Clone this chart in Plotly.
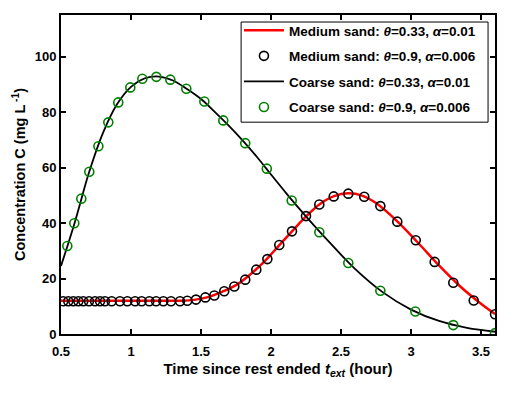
import plotly.graph_objects as go

# Medium sand, theta=0.33 (model curve)
med_line_t = [0.5, 1.0, 1.2, 1.35, 1.45, 1.55, 1.65, 1.75, 1.85, 1.95, 2.05, 2.15, 2.25, 2.35,
              2.45, 2.55, 2.65, 2.75, 2.9, 3.05, 3.2, 3.35, 3.5, 3.6]
med_line_c = [12.0, 12.0, 12.0, 12.0, 12.3, 13.3, 15.2, 17.6, 21.4, 26.0, 31.5, 37.0, 42.4, 46.9,
              49.7, 50.7, 49.9, 47.2, 40.7, 32.9, 24.7, 17.2, 10.9, 7.2]

# Medium sand, theta=0.9 (circles)
med_pts_t = [0.516, 0.552, 0.588, 0.624, 0.659, 0.700, 0.743, 0.779, 0.814, 0.862, 0.921,
             0.974, 1.029, 1.076, 1.131, 1.179, 1.231, 1.286, 1.350, 1.402, 1.464, 1.531,
             1.595, 1.666, 1.738, 1.816, 1.895, 1.974, 2.059, 2.150, 2.250, 2.345, 2.448,
             2.552, 2.666, 2.781, 2.902, 3.034, 3.169, 3.302, 3.448, 3.600]
med_pts_c = [11.8, 11.8, 11.8, 11.8, 11.8, 11.8, 11.8, 11.8, 11.8, 11.8, 11.8,
             11.8, 11.8, 11.8, 11.8, 11.8, 11.8, 11.8, 11.8, 12.0, 12.4, 13.2,
             13.9, 15.4, 17.1, 19.6, 23.2, 27.0, 32.1, 37.0, 42.5, 46.7, 49.6,
             50.6, 49.5, 46.1, 40.5, 33.8, 26.0, 18.5, 12.1, 7.1]

# Coarse sand, theta=0.33 (model curve)
coarse_line_t = [0.5, 0.6, 0.7, 0.8, 0.9, 1.0, 1.1, 1.2, 1.3, 1.4, 1.5, 1.6, 1.7, 1.8, 1.9,
                 2.0, 2.1, 2.2, 2.4, 2.6, 2.8, 3.0, 3.2, 3.4, 3.6]
coarse_line_c = [24.5, 40.5, 58.2, 72.5, 82.8, 89.1, 92.2, 92.8, 91.4, 88.3, 84.7, 80.0, 75.0,
                 69.6, 63.8, 57.5, 51.3, 45.3, 34.0, 23.5, 15.0, 8.8, 4.7, 2.2, 0.8]

# Coarse sand, theta=0.9 (circles)
coarse_pts_t = [0.545, 0.595, 0.645, 0.702, 0.767, 0.838, 0.909, 0.995, 1.081, 1.181, 1.281,
                1.395, 1.524, 1.659, 1.816, 1.970, 2.148, 2.345, 2.552, 2.781, 3.031, 3.302, 3.600]
coarse_pts_c = [31.7, 39.9, 48.8, 58.5, 67.7, 76.3, 83.5, 88.9, 92.0, 92.7, 91.7,
                88.4, 83.8, 77.0, 68.8, 59.6, 48.1, 36.7, 25.6, 15.6, 8.1, 3.2, 0.3]

x_ticks = [0.5, 1, 1.5, 2, 2.5, 3, 3.5]
y_ticks = [0, 20, 40, 60, 80, 100]

FONT = "Liberation Sans, Arial, sans-serif"
GREEN = "rgb(0,128,0)"

fig = go.Figure()

# curves first, circles on top; legendrank keeps the reference's legend order
fig.add_trace(go.Scatter(
    x=med_line_t, y=med_line_c, mode="lines", line=dict(color="red", width=2.5, shape="spline"),
    name="<b>Medium sand: <i>θ</i>=0.33, <i>α</i>=0.01</b>", legendrank=1, legendgroup="a"))
fig.add_trace(go.Scatter(
    x=coarse_line_t, y=coarse_line_c, mode="lines", line=dict(color="black", width=1.8, shape="spline"),
    name="<b>Coarse sand: <i>θ</i>=0.33, <i>α</i>=0.01</b>", legendrank=3, legendgroup="c"))
fig.add_trace(go.Scatter(
    x=med_pts_t, y=med_pts_c, mode="markers",
    marker=dict(symbol="circle-open", size=9, color="black", line=dict(width=1.6)),
    name="<b>Medium sand: <i>θ</i>=0.9, <i>α</i>=0.006</b>", legendrank=2, legendgroup="b"))
fig.add_trace(go.Scatter(
    x=coarse_pts_t, y=coarse_pts_c, mode="markers",
    marker=dict(symbol="circle-open", size=9, color=GREEN, line=dict(width=1.6)),
    name="<b>Coarse sand: <i>θ</i>=0.9, <i>α</i>=0.006</b>", legendrank=4, legendgroup="d"))

axis_common = dict(
    showgrid=False, zeroline=False, showline=True, linecolor="black", linewidth=2,
    mirror="ticks", ticks="inside", ticklen=5, tickwidth=1.5, tickcolor="black",
    tickfont=dict(family=FONT, size=13, color="black"),
)

fig.update_xaxes(range=[0.5, 3.6], tickvals=x_ticks, ticktext=[f"<b>{v:g}</b>" for v in x_ticks],
                 ticklabelstandoff=4,
                 title=dict(text="<b>Time since rest ended <i>t</i><sub><i>ext</i></sub> (hour)</b>",
                            font=dict(family=FONT, size=15, color="black"), standoff=6),
                 **axis_common)
fig.update_yaxes(range=[0, 115], tickvals=y_ticks, ticktext=[f"<b>{v}</b>" for v in y_ticks],
                 title=dict(text="<b>Concentration C (mg L<sup> -1</sup>)</b>",
                            font=dict(family=FONT, size=14.5, color="black"), standoff=6),
                 **axis_common)

# legend frame drawn as a shape so the row spacing can be set independently
fig.add_shape(type="rect", xref="paper", yref="paper",
              x0=0.415, x1=0.984, y0=0.664, y1=0.978,
              line=dict(color="black", width=1), fillcolor="white", layer="above")

# page body has an 8px margin, so the figure is shrunk and shifted to compensate
fig.update_layout(
    width=496, height=380,
    margin=dict(l=53, r=9, t=5, b=54),
    plot_bgcolor="white", paper_bgcolor="white",
    legend=dict(x=0.41, y=1.0, xanchor="left", yanchor="top",
                bgcolor="rgba(0,0,0,0)", borderwidth=0,
                font=dict(family=FONT, size=13.5, color="black"),
                itemwidth=40, tracegroupgap=5),
)

fig.write_html("out.html")
